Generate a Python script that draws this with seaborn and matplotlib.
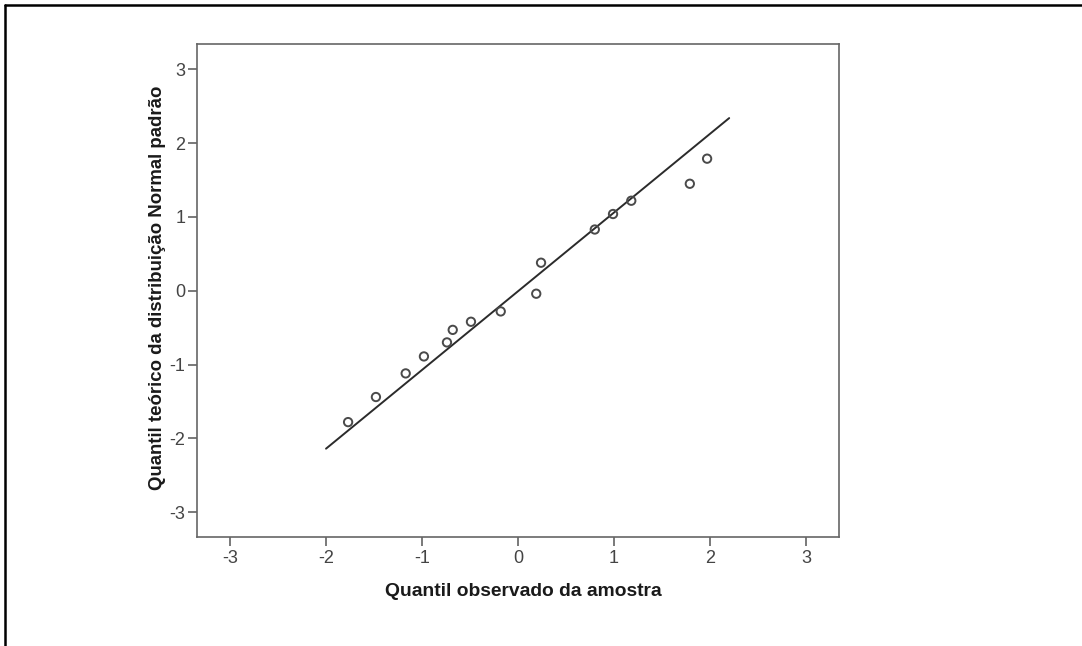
import matplotlib
matplotlib.use("Agg")
import matplotlib.pyplot as plt
from matplotlib.lines import Line2D
import seaborn as sns
import pandas as pd

# Data
observed = [-1.77, -1.48, -1.17, -0.98, -0.74, -0.68, -0.49, -0.18, 0.19, 0.24,
            0.80, 0.99, 1.18, 1.79, 1.97]
theoretical = [-1.78, -1.44, -1.12, -0.89, -0.70, -0.53, -0.42, -0.28, -0.04, 0.38,
               0.83, 1.04, 1.22, 1.45, 1.79]
line_x = [-2.0, 2.20]
line_y = [-2.14, 2.34]
ticks = [-3, -2, -1, 0, 1, 2, 3]
xlabel = "Quantil observado da amostra"
ylabel = "Quantil teórico da distribuição Normal padrão"

pts = pd.DataFrame({"x": observed, "y": theoretical})
ref = pd.DataFrame({"x": line_x, "y": line_y})

sns.set_style("white")
plt.rcParams["font.family"] = ["Liberation Sans", "DejaVu Sans"]

fig = plt.figure(figsize=(10.82, 6.46), dpi=100)
ax = fig.add_axes([197 / 1082, 1 - 537 / 646, 642 / 1082, 493 / 646])

sns.lineplot(data=ref, x="x", y="y", ax=ax, color="#2b2b2b", linewidth=1.4,
             estimator=None, sort=False)
sns.scatterplot(data=pts, x="x", y="y", ax=ax, marker="o", s=36,
                facecolor="none", edgecolor="#4a4a4a", linewidth=1.4, zorder=3)

ax.set_xlim(-3.344, 3.344)
ax.set_ylim(-3.337, 3.344)
ax.set_xticks(ticks)
ax.set_yticks(ticks)
ax.set_xticklabels([str(t) for t in ticks], fontsize=13, color="#444444")
ax.set_yticklabels([str(t) for t in ticks], fontsize=13, color="#444444")
ax.tick_params(axis="both", which="major", bottom=True, left=True,
               direction="out", length=6.5, width=1.1, color="#555555")
ax.tick_params(axis="x", pad=3)
ax.tick_params(axis="y", pad=2)

for sp in ax.spines.values():
    sp.set_visible(True)
    sp.set_color("#666666")
    sp.set_linewidth(1.2)

ax.set_xlabel(xlabel, fontsize=13.9, fontweight="bold", color="#1a1a1a")
ax.set_ylabel(ylabel, fontsize=13.4, fontweight="bold", color="#1a1a1a")
ax.xaxis.set_label_coords(0.508, -0.093)
ax.yaxis.set_label_coords(-0.049, 0.505)

# outer frame (top and left edges)
fig.add_artist(Line2D([5 / 1082, 1.0], [1 - 5 / 646, 1 - 5 / 646],
                      transform=fig.transFigure, color="black", linewidth=1.8))
fig.add_artist(Line2D([5 / 1082, 5 / 1082], [0.0, 1 - 5 / 646],
                      transform=fig.transFigure, color="black", linewidth=1.8))

fig.savefig("out.png", dpi=100)
